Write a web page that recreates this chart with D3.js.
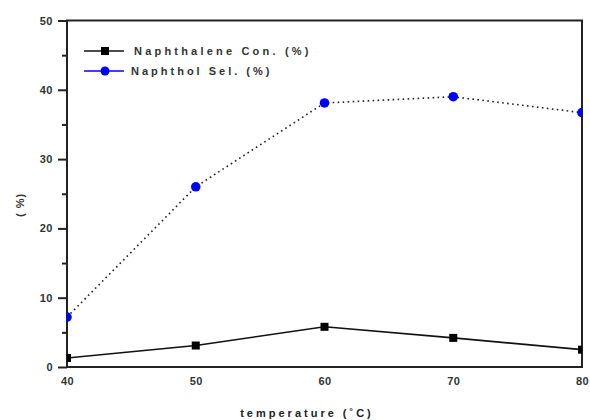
<!DOCTYPE html>
<html lang="en">
<head>
    <meta charset="UTF-8">
    <title>Naphthalene conversion</title>
    <script src="https://d3js.org/d3.v7.min.js"></script>
    <style>
        body { margin: 0; background: #fff; }
        text { font-family: "Liberation Sans", Arial, sans-serif; font-weight: bold; }
    </style>
</head>
<body>
    <svg width="590" height="420"></svg>

    <script>
        // temperatures and the two series
        const temps = [40, 50, 60, 70, 80];
        const naphthaleneCon = [1.3, 3.1, 5.8, 4.2, 2.5];
        const naphtholSel = [7.2, 26.0, 38.1, 39.0, 36.7];
        const xTicks = [40, 50, 60, 70, 80];
        const yTicks = [0, 10, 20, 30, 40, 50];
        const yMinor = [5, 15, 25, 35, 45];

        const svg = d3.select("svg");
        const plotL = 67, plotR = 582, plotT = 20.5, plotB = 367;

        const x = d3.scaleLinear().domain([40, 80]).range([plotL, plotR]);
        const y = d3.scaleLinear().domain([0, 50]).range([plotB, plotT]);

        svg.append("defs").append("clipPath").attr("id", "plot")
            .append("rect")
            .attr("x", plotL).attr("y", plotT)
            .attr("width", plotR - plotL).attr("height", plotB - plotT);

        // axes
        svg.append("g")
            .attr("transform", `translate(${plotL},0)`)
            .call(d3.axisLeft(y).tickValues(yTicks).tickSize(9).tickPadding(5));
        svg.append("g")
            .attr("transform", `translate(${plotL},0)`)
            .call(d3.axisLeft(y).tickValues(yMinor).tickSize(5).tickFormat(""));
        svg.append("g")
            .attr("transform", `translate(0,${plotB})`)
            .call(d3.axisBottom(x).tickValues(xTicks).tickSize(0).tickPadding(10));

        svg.selectAll(".domain").remove();
        svg.selectAll(".tick line").attr("stroke", "#222").attr("stroke-width", 2);
        svg.selectAll(".tick text")
            .attr("fill", "#333")
            .style("font-size", "11px")
            .style("letter-spacing", "0.5px");

        // frame
        svg.append("rect")
            .attr("x", plotL).attr("y", plotT)
            .attr("width", plotR - plotL).attr("height", plotB - plotT)
            .attr("fill", "none")
            .attr("stroke", "#222")
            .attr("stroke-width", 2);

        const plot = svg.append("g").attr("clip-path", "url(#plot)");

        const line = d3.line().x(d => x(d[0])).y(d => y(d[1]));
        const selPts = temps.map((t, i) => [t, naphtholSel[i]]);
        const conPts = temps.map((t, i) => [t, naphthaleneCon[i]]);

        plot.append("path")
            .datum(selPts)
            .attr("d", line)
            .attr("fill", "none")
            .attr("stroke", "#222")
            .attr("stroke-width", 1.6)
            .attr("stroke-dasharray", "1.6,3.4");

        plot.append("path")
            .datum(conPts)
            .attr("d", line)
            .attr("fill", "none")
            .attr("stroke", "#111")
            .attr("stroke-width", 1.6);

        plot.selectAll("rect.con")
            .data(conPts)
            .enter().append("rect")
            .attr("class", "con")
            .attr("x", d => x(d[0]) - 4)
            .attr("y", d => y(d[1]) - 4)
            .attr("width", 8).attr("height", 8)
            .attr("fill", "#000");

        plot.selectAll("circle.sel")
            .data(selPts)
            .enter().append("circle")
            .attr("class", "sel")
            .attr("cx", d => x(d[0]))
            .attr("cy", d => y(d[1]))
            .attr("r", 4.8)
            .attr("fill", "#0000ff");

        // legend
        const legend = svg.append("g");
        legend.append("line")
            .attr("x1", 84).attr("x2", 124).attr("y1", 51).attr("y2", 51)
            .attr("stroke", "#111").attr("stroke-width", 1.6);
        legend.append("rect")
            .attr("x", 101).attr("y", 47).attr("width", 8).attr("height", 8)
            .attr("fill", "#000");
        legend.append("text")
            .attr("x", 134).attr("y", 55)
            .style("font-size", "11px").style("letter-spacing", "3.2px")
            .attr("fill", "#333")
            .text("Naphthalene Con. (%)");
        legend.append("line")
            .attr("x1", 84).attr("x2", 124).attr("y1", 71).attr("y2", 71)
            .attr("stroke", "#0000ff").attr("stroke-width", 1.6);
        legend.append("circle")
            .attr("cx", 105).attr("cy", 71).attr("r", 4.5)
            .attr("fill", "#0000ff");
        legend.append("text")
            .attr("x", 131).attr("y", 75)
            .style("font-size", "11px").style("letter-spacing", "3px")
            .attr("fill", "#333")
            .text("Naphthol Sel. (%)");

        // axis titles
        svg.append("text")
            .attr("x", 307).attr("y", 417)
            .attr("text-anchor", "middle")
            .style("font-size", "11px").style("letter-spacing", "3px")
            .attr("fill", "#222")
            .text("temperature (˚C)");
        svg.append("text")
            .attr("transform", "translate(24,205) rotate(-90)")
            .attr("text-anchor", "middle")
            .style("font-size", "11px").style("letter-spacing", "1px")
            .attr("fill", "#333")
            .text("( %)");
    </script>
</body>
</html>
